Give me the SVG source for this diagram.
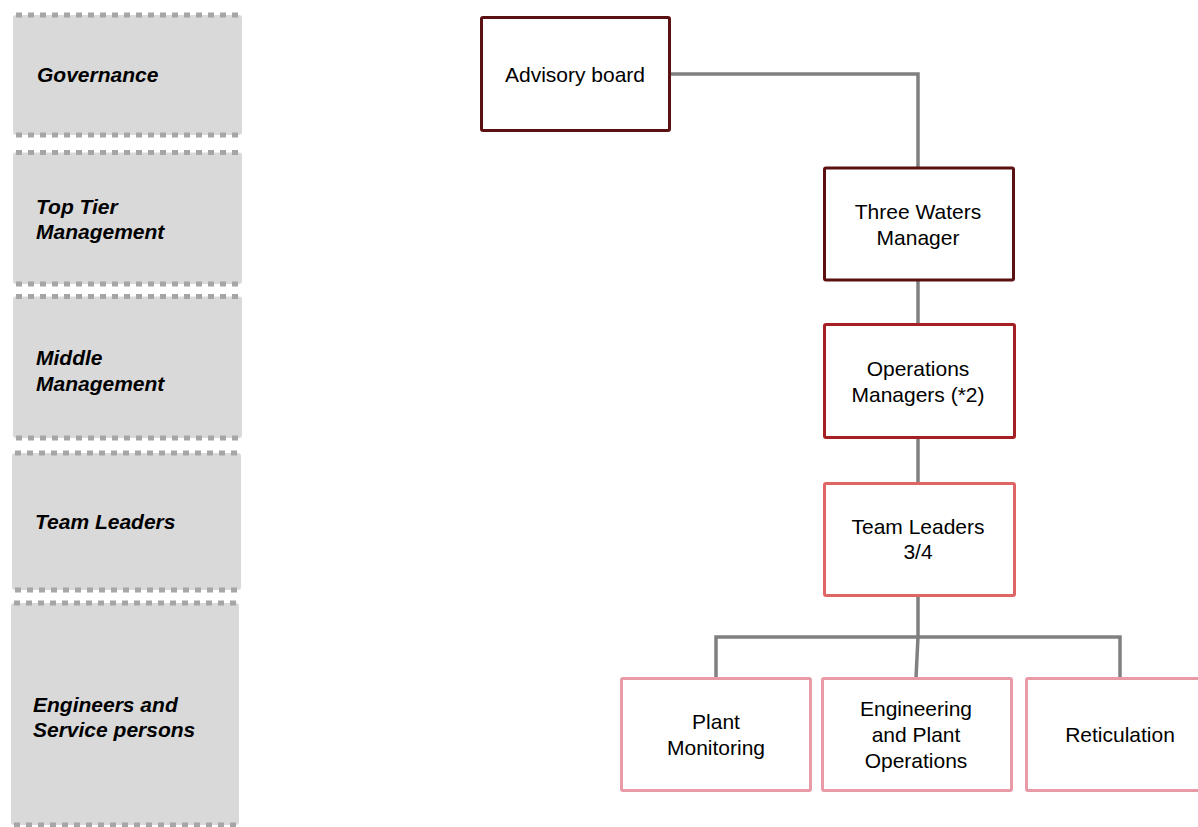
<svg xmlns="http://www.w3.org/2000/svg" width="1198" height="827" viewBox="0 0 1198 827">
<style>
.band{fill:#d9d9d9;}
.dots{stroke:#a6a6a6;stroke-width:5;stroke-dasharray:6 6;fill:none;}
.lab{font-family:"Liberation Sans",Arial,sans-serif;font-size:21px;font-weight:bold;font-style:italic;fill:#000;}
.node rect{fill:#fff;stroke-width:3;}
.txt{font-family:"Liberation Sans",Arial,sans-serif;font-size:21px;fill:#000;text-anchor:middle;}
.c1{stroke:#5b1111;}
.c2{stroke:#a61f24;}
.c3{stroke:#e06666;}
.c4{stroke:#e99aa7;}
#connectors path{stroke:#808080;stroke-width:3.5;fill:none;}
</style>
<g id="bands">
<g id="band-governance">
<rect class="band" x="13" y="15" width="229" height="120" rx="3"/>
<line class="dots" x1="16" y1="15" x2="242" y2="15"/>
<line class="dots" x1="16" y1="135" x2="242" y2="135"/>
<text class="lab" x="37" y="82">Governance</text>
</g>
<g id="band-top">
<rect class="band" x="13" y="152.5" width="229" height="131.5" rx="3"/>
<line class="dots" x1="16" y1="152.5" x2="242" y2="152.5"/>
<line class="dots" x1="16" y1="284" x2="242" y2="284"/>
<text class="lab" x="36" y="214">Top Tier</text>
<text class="lab" x="36" y="239">Management</text>
</g>
<g id="band-middle">
<rect class="band" x="13" y="296.5" width="229" height="141.5" rx="3"/>
<line class="dots" x1="16" y1="296.5" x2="242" y2="296.5"/>
<line class="dots" x1="16" y1="438" x2="242" y2="438"/>
<text class="lab" x="36" y="365">Middle</text>
<text class="lab" x="36" y="391">Management</text>
</g>
<g id="band-team">
<rect class="band" x="12" y="453" width="229" height="137" rx="3"/>
<line class="dots" x1="15" y1="453" x2="241" y2="453"/>
<line class="dots" x1="15" y1="590" x2="241" y2="590"/>
<text class="lab" x="35" y="529">Team Leaders</text>
</g>
<g id="band-eng">
<rect class="band" x="11" y="603" width="228" height="222" rx="3"/>
<line class="dots" x1="14" y1="603" x2="239" y2="603"/>
<line class="dots" x1="14" y1="825" x2="239" y2="825"/>
<text class="lab" x="33" y="712">Engineers and</text>
<text class="lab" x="33" y="737">Service persons</text>
</g>
</g>
<g id="connectors">
<path d="M670 74 H918 V168"/>
<path d="M918 280 V324"/>
<path d="M918 438 V483"/>
<path d="M918 596 V637 L916 678"/>
<path d="M716 678 V637 H1120 V678"/>
</g>
<g id="advisory" class="node">
<rect class="c1" x="481.5" y="17.5" width="188" height="113" rx="1.5"/>
<text class="txt" x="575" y="81.5">Advisory board</text>
</g>
<g id="three-waters" class="node">
<rect class="c1" x="824.5" y="168" width="189" height="112" rx="1.5"/>
<text class="txt" x="918" y="219">Three Waters</text>
<text class="txt" x="918" y="245">Manager</text>
</g>
<g id="operations" class="node">
<rect class="c2" x="824.5" y="324.5" width="190" height="113" rx="1.5"/>
<text class="txt" x="918" y="376">Operations</text>
<text class="txt" x="918" y="402">Managers (*2)</text>
</g>
<g id="team-leaders" class="node">
<rect class="c3" x="824.5" y="483.5" width="190" height="112" rx="1.5"/>
<text class="txt" x="918" y="534">Team Leaders</text>
<text class="txt" x="918" y="559">3/4</text>
</g>
<g id="plant-monitoring" class="node">
<rect class="c4" x="621.5" y="678.5" width="189" height="112" rx="1.5"/>
<text class="txt" x="716" y="729">Plant</text>
<text class="txt" x="716" y="755">Monitoring</text>
</g>
<g id="engineering" class="node">
<rect class="c4" x="822.5" y="678.5" width="189" height="112" rx="1.5"/>
<text class="txt" x="916" y="716">Engineering</text>
<text class="txt" x="916" y="742">and Plant</text>
<text class="txt" x="916" y="768">Operations</text>
</g>
<g id="reticulation" class="node">
<rect class="c4" x="1026.5" y="678.5" width="189" height="112" rx="1.5"/>
<text class="txt" x="1120" y="742">Reticulation</text>
</g>
</svg>
